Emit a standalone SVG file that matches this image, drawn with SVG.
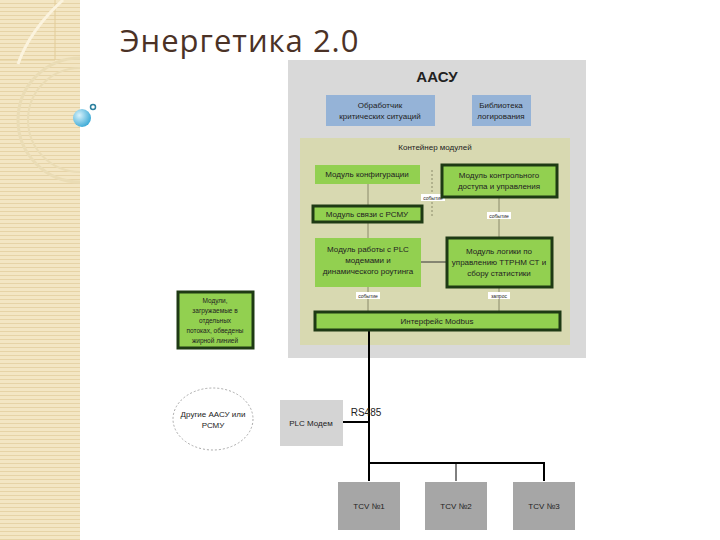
<svg xmlns="http://www.w3.org/2000/svg" width="720" height="540" viewBox="0 0 720 540">
<defs>
<pattern id="stripe" width="6" height="4" patternUnits="userSpaceOnUse"><rect width="6" height="4" fill="#f3e6c4"/><rect y="3" width="6" height="1" fill="#e6d3a6"/></pattern>
<radialGradient id="ball" cx="0.35" cy="0.35" r="0.7"><stop offset="0" stop-color="#d8f2fb"/><stop offset="1" stop-color="#3aa9d6"/></radialGradient>
<clipPath id="strip"><rect width="80" height="540"/></clipPath>
</defs>
<style>
text{font-family:"Liberation Sans",Arial,sans-serif;fill:#222;text-anchor:middle}
.s{font-size:8px}
.g{fill:#92d050}
.gb{fill:#92d050;stroke:#1e3a14;stroke-width:3}
.thin{stroke:#8a8a6a;stroke-width:1;fill:none}
.bold{stroke:#000;stroke-width:2;fill:none}
.lbl{fill:#fff}
</style>
<rect width="720" height="540" fill="#fff"/>
<rect width="80" height="540" fill="url(#stripe)"/>
<g clip-path="url(#strip)">
<path d="M0 60 H55 V0" fill="none" stroke="#e2cc98" stroke-width="1"/>
<path d="M63 0 Q30 30 18 64" fill="none" stroke="#fbf3de" stroke-width="3"/>
<circle cx="80" cy="120" r="62" fill="none" stroke="#eadcb5" stroke-width="3"/>
<circle cx="80" cy="120" r="52" fill="none" stroke="#eadcb5" stroke-width="2"/>
</g>
<circle cx="82" cy="118" r="9" fill="url(#ball)"/>
<circle cx="93" cy="107" r="2.5" fill="none" stroke="#2a7f9e" stroke-width="1.5"/>
<text x="120" y="52" style="font-size:31px;text-anchor:start;fill:#4b3226;font-family:'Open Sans','Liberation Sans',sans-serif;letter-spacing:1px">Энергетика 2.0</text>

<g id="aasu"><rect x="288" y="60" width="298" height="298" fill="#d9d9d9"/><text x="437" y="82" style="font-size:15px;font-weight:bold">ААСУ</text></g>
<g id="crit"><rect x="326" y="95" width="109" height="31" fill="#95b3d7"/><text class="s" x="380" y="108">Обработчик</text><text class="s" x="380" y="119">критических ситуаций</text></g>
<g id="lib"><rect x="472" y="95" width="59" height="31" fill="#95b3d7"/><text class="s" x="501" y="108">Библиотека</text><text class="s" x="501" y="119">логирования</text></g>
<g id="container"><rect x="300" y="138" width="270" height="207" fill="#d8d9b1"/><text class="s" x="435" y="150">Контейнер модулей</text></g>

<g id="connectors">
<line class="thin" x1="368" y1="184" x2="368" y2="238"/>
<line class="thin" x1="432" y1="170" x2="432" y2="216" stroke-dasharray="2,2"/>
<line class="thin" x1="499" y1="197" x2="499" y2="238"/>
<line x1="421" y1="262" x2="447" y2="262" stroke="#333" stroke-width="1"/>
<line class="thin" x1="368" y1="287" x2="368" y2="312"/>
<line class="thin" x1="499" y1="287" x2="499" y2="312"/>
<rect class="lbl" x="421" y="194" width="24" height="7"/><text x="433" y="200" style="font-size:5px">событие</text>
<rect class="lbl" x="487" y="212" width="24" height="7"/><text x="499" y="218" style="font-size:5px">событие</text>
<rect class="lbl" x="356" y="292" width="24" height="7"/><text x="368" y="298" style="font-size:5px">событие</text>
<rect class="lbl" x="488" y="292" width="22" height="7"/><text x="499" y="298" style="font-size:5px">запрос</text>
<polyline class="bold" points="369,330 369,481"/>
<line class="bold" x1="343" y1="422" x2="369" y2="422"/>
<polyline class="bold" points="369,463 544,463 544,481"/>
<line x1="456" y1="463" x2="456" y2="481" stroke="#000" stroke-width="1"/>
<text x="366" y="416" style="font-size:10px">RS485</text>
</g>

<g id="config"><rect class="g" x="315" y="165" width="105" height="19"/><text class="s" x="367" y="177">Модуль конфигурации</text></g>
<g id="access"><rect class="gb" x="442" y="165" width="115" height="32"/><text class="s" x="499" y="178">Модуль контрольного</text><text class="s" x="499" y="189">доступа и управления</text></g>
<g id="rsmu"><rect class="gb" x="313" y="206" width="109" height="16"/><text class="s" x="367" y="217">Модуль связи с РСМУ</text></g>
<g id="plc"><rect class="g" x="315" y="238" width="106" height="49"/><text class="s" x="368" y="252">Модуль работы с PLC</text><text class="s" x="368" y="263">модемами и</text><text class="s" x="368" y="274">динамического роутинга</text></g>
<g id="logic"><rect class="gb" x="447" y="238" width="105" height="49"/><text class="s" x="499" y="254">Модуль логики по</text><text class="s" x="499" y="265">управлению ТТРНМ СТ и</text><text class="s" x="499" y="276">сбору статистики</text></g>
<g id="modbus"><rect class="gb" x="315" y="312" width="245" height="18"/><text class="s" x="437" y="324">Интерфейс Modbus</text></g>
<g id="ext"><rect class="gb" x="178" y="292" width="75" height="56"/><text style="font-size:6.5px" x="215" y="303">Модули,</text><text style="font-size:6.5px" x="215" y="313">загружаемые в</text><text style="font-size:6.5px" x="215" y="323">отдельных</text><text style="font-size:6.5px" x="215" y="333">потоках, обведены</text><text style="font-size:6.5px" x="215" y="343">жирной линией</text></g>
<g id="other"><ellipse cx="213" cy="419" rx="40" ry="31" fill="#fff" stroke="#aaa" stroke-dasharray="2,2"/><text class="s" x="213" y="417">Другие ААСУ или</text><text class="s" x="213" y="428">РСМУ</text></g>
<g id="modem"><rect x="280" y="400" width="63" height="46" fill="#d4d4d4"/><text class="s" x="311" y="426">PLC Модем</text></g>
<g id="tcv1"><rect x="338" y="482" width="62" height="48" fill="#a6a6a6"/><text class="s" x="369" y="509">TCV №1</text></g>
<g id="tcv2"><rect x="425" y="482" width="62" height="48" fill="#a6a6a6"/><text class="s" x="456" y="509">TCV №2</text></g>
<g id="tcv3"><rect x="513" y="482" width="62" height="48" fill="#a6a6a6"/><text class="s" x="544" y="509">TCV №3</text></g>
</svg>
